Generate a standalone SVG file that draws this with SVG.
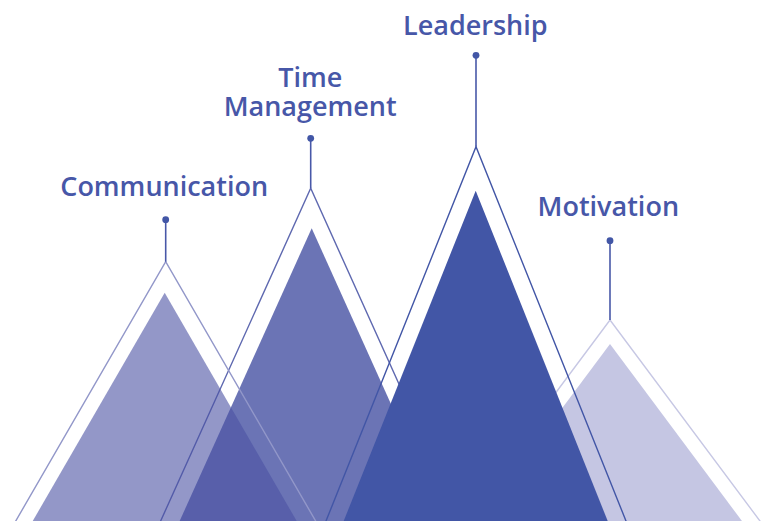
<svg xmlns="http://www.w3.org/2000/svg" width="763" height="521" viewBox="0 0 763 521">
  <style>
    .label { font-family: "Open Sans", "Liberation Sans", sans-serif; font-weight: 600; font-size: 27px; fill: #4757a8; text-anchor: middle; }
    .stem { stroke: #4858a8; stroke-width: 1.6; fill: none; }
    .pin { fill: #4256a6; }
    .edge { fill: none; stroke-width: 1.4; stroke-linejoin: miter; }
  </style>
  <rect width="763" height="521" fill="#ffffff"/>

  <!-- peaks: outline ridge + inner solid peak -->
  <g id="peak-time-management">
    <polyline class="edge" stroke="#5f69b0" points="159.3,524 310.7,188.3 462.1,524"/>
    <polygon fill="#6b74b5" points="178.3,524 311.7,228.3 445.1,524"/>
  </g>
  <g id="peak-motivation">
    <polyline class="edge" stroke="#c7c8e4" points="457.8,524 610,320 762.2,524"/>
    <polygon fill="#c5c6e3" points="475.8,524 610,344 744.2,524"/>
  </g>
  <g id="peak-leadership">
    <polyline class="edge" stroke="#4256a6" points="324.8,524 476,146.7 627.2,524"/>
    <polygon fill="#4256a6" points="342.5,524 475.7,190.7 608.9,524"/>
  </g>
  <g id="peak-communication">
    <polyline class="edge" stroke="#9297c9" points="14,524 165.7,261.7 317.4,524"/>
    <polygon fill="#4b52a4" fill-opacity="0.6" points="31,524 164.7,292.7 298.4,524"/>
  </g>

  <!-- label pins linking each peak to its caption -->
  <g id="connectors">
    <line class="stem" x1="165.7" y1="219.7" x2="165.7" y2="261.7"/>
    <circle class="pin" cx="165.7" cy="219.7" r="3.4"/>
    <line class="stem" x1="310.7" y1="138.3" x2="310.7" y2="188.3"/>
    <circle class="pin" cx="310.7" cy="138.3" r="3.4"/>
    <line class="stem" x1="476" y1="55.3" x2="476" y2="146.7"/>
    <circle class="pin" cx="476" cy="55.3" r="3.4"/>
    <line class="stem" x1="610" y1="240.7" x2="610" y2="320"/>
    <circle class="pin" cx="610" cy="240.7" r="3.4"/>
  </g>

  <g id="label-communication">
    <text class="label" x="164.2" y="195.7">Communication</text>
  </g>
  <g id="label-time-management">
    <text class="label" x="310.3" y="86.7">Time</text>
    <text class="label" x="310.2" y="115.7">Management</text>
  </g>
  <g id="label-leadership">
    <text class="label" x="475.3" y="35">Leadership</text>
  </g>
  <g id="label-motivation">
    <text class="label" x="608.3" y="216">Motivation</text>
  </g>
</svg>
